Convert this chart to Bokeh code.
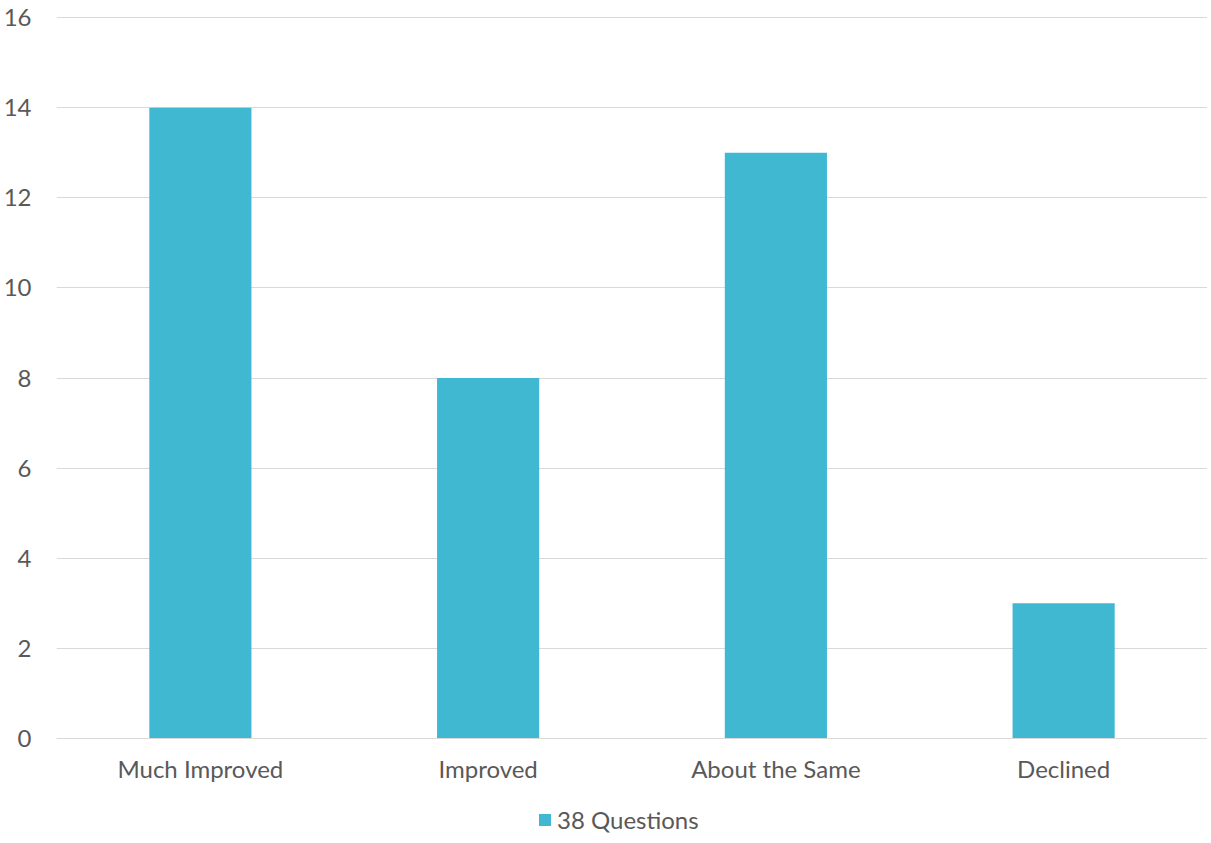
from bokeh.plotting import figure
from bokeh.models import ColumnDataSource, Legend, LegendItem, FixedTicker, Range1d
from bokeh.embed import file_html
from bokeh.resources import INLINE

categories = ["Much Improved", "Improved", "About the Same", "Declined"]
values = [14, 8, 13, 3]
series_name = "38 Questions"
y_ticks = [0, 2, 4, 6, 8, 10, 12, 14, 16]

color = "#41B8D2"
text_color = "#595959"
font = "Lato"

src = ColumnDataSource(dict(cat=categories, val=values))

# frame extends below zero to leave room for the category labels and legend
p = figure(x_range=categories, y_range=Range1d(-2.219, 16.045),
           frame_width=1151, frame_height=823,
           output_backend="svg", toolbar_location=None,
           min_border_left=49, min_border_top=15, min_border_right=0, min_border_bottom=0)
p.x_range.range_padding = 0
r = p.vbar(x="cat", top="val", bottom=0, width=0.355, source=src, color=color, line_color=None)

p.outline_line_color = None
p.xgrid.grid_line_color = None
p.ygrid.grid_line_color = "#D9D9D9"
p.ygrid.grid_line_width = 1
p.yaxis.ticker = FixedTicker(ticks=y_ticks)
for ax in (p.xaxis, p.yaxis):
    ax.axis_line_color = None
    ax.major_tick_line_color = None
    ax.minor_tick_line_color = None
    ax.major_label_text_font = font
    ax.major_label_text_font_size = "24px"
    ax.major_label_text_color = text_color
p.xaxis.axis_line_color = "#D9D9D9"
p.xaxis.fixed_location = 0
p.xaxis.major_label_standoff = 9
p.yaxis.major_label_standoff = 19

legend = Legend(items=[LegendItem(label=series_name, renderers=[r])],
                orientation="horizontal", location=(481, 4),
                label_text_font=font, label_text_font_size="24px",
                label_text_color=text_color, border_line_color=None,
                background_fill_alpha=0,
                glyph_width=15, glyph_height=15, label_standoff=5,
                margin=0, padding=0)
p.add_layout(legend, "center")

open("out.html", "w").write(file_html(p, INLINE))
